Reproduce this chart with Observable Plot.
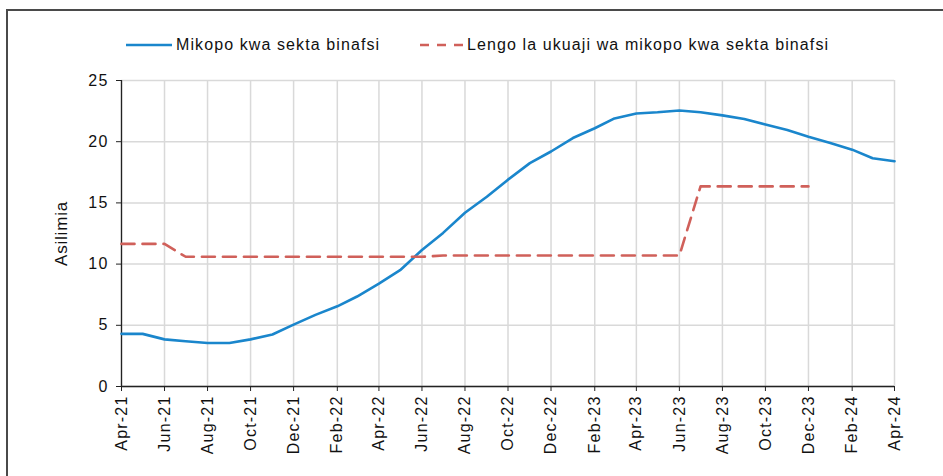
<!DOCTYPE html>
<html><head><meta charset="utf-8">
<script src="https://cdn.jsdelivr.net/npm/d3@7"></script>
<script src="https://cdn.jsdelivr.net/npm/@observablehq/plot@0.6"></script>
<style>
html,body{margin:0;padding:0;background:#fff;}
#wrap{position:relative;width:943px;height:476px;overflow:hidden;font-family:"Liberation Sans",Arial,Helvetica,sans-serif;color:#111;}
#frame{position:absolute;left:6px;top:9px;width:980px;height:520px;border-top:2px solid #4a4a4a;border-left:2px solid #4a4a4a;}
#chart{position:absolute;left:0;top:0;}
#chart svg text{letter-spacing:1.2px;}
#chart g[aria-label="y-axis label"] text{font-size:17px;letter-spacing:0.8px;}
.leg{position:absolute;font-size:16px;line-height:20px;letter-spacing:1.1px;white-space:nowrap;display:flex;align-items:center;}
.leg svg{display:block;margin-right:4px;}
</style></head><body>
<div id="wrap"><div id="frame"></div><div id="chart"></div><div id="legend"></div></div>
<script>
const months = ["2021-04","2021-05","2021-06","2021-07","2021-08","2021-09","2021-10","2021-11","2021-12",
  "2022-01","2022-02","2022-03","2022-04","2022-05","2022-06","2022-07","2022-08","2022-09","2022-10","2022-11","2022-12",
  "2023-01","2023-02","2023-03","2023-04","2023-05","2023-06","2023-07","2023-08","2023-09","2023-10","2023-11","2023-12",
  "2024-01","2024-02","2024-03","2024-04"];
const privateCredit = [4.3,4.3,3.85,3.7,3.55,3.55,3.85,4.25,5.05,
  5.85,6.55,7.35,8.4,9.5,11.15,12.55,14.2,15.5,16.9,18.25,19.2,
  20.3,21.1,21.9,22.3,22.4,22.55,22.4,22.15,21.85,21.4,20.95,20.4,
  19.9,19.35,18.65,18.4];
const creditTarget = [11.65,11.65,11.65,10.6,10.6,10.6,10.6,10.6,10.6,
  10.6,10.6,10.6,10.6,10.6,10.6,10.7,10.7,10.7,10.7,10.7,10.7,
  10.7,10.7,10.7,10.7,10.7,10.7,16.35,16.35,16.35,16.35,16.35,16.35];
const seriesNames = ["Mikopo kwa sekta binafsi","Lengo la ukuaji wa mikopo kwa sekta binafsi"];
const seriesColors = ["#1a86cc","#d0605a"];
const xTickLabels = ["Apr-21","Jun-21","Aug-21","Oct-21","Dec-21","Feb-22","Apr-22","Jun-22","Aug-22","Oct-22",
  "Dec-22","Feb-23","Apr-23","Jun-23","Aug-23","Oct-23","Dec-23","Feb-24","Apr-24"];
const yTicks = [0,5,10,15,20,25];
const yLabel = "Asilimia";

const parseMonth = d3.utcParse("%Y-%m");
const parseTick = d3.utcParse("%b-%y");
const credit = months.map((m,i)=>({date: parseMonth(m), value: privateCredit[i]}));
const target = creditTarget.map((v,i)=>({date: parseMonth(months[i]), value: v}));
const xTicks = xTickLabels.map(s=>parseTick(s));
const fmtTick = d => { const k = xTicks.findIndex(t=>+t===+d); return k>=0 ? xTickLabels[k] : ""; };

const plot = Plot.plot({
  width: 943, height: 476,
  marginLeft: 121, marginRight: 49, marginTop: 80, marginBottom: 90,
  style: {fontFamily: '"Liberation Sans",Arial,Helvetica,sans-serif', fontSize: "16px", color: "#111", background: "transparent", overflow: "visible"},
  x: {type: "utc", domain: [xTicks[0], xTicks[xTicks.length-1]]},
  y: {domain: [0, 25]},
  marks: [
    Plot.gridX({ticks: xTicks, stroke: "#d9d9d9", strokeOpacity: 1, strokeWidth: 1.5}),
    Plot.gridY({ticks: yTicks, stroke: "#d9d9d9", strokeOpacity: 1, strokeWidth: 1.5}),
    Plot.axisX({ticks: xTicks, tickFormat: fmtTick, tickRotate: -90, tickSize: 5, tickPadding: 4, label: null, stroke: "#222"}),
    Plot.axisY({ticks: yTicks, tickSize: 5, tickPadding: 8, label: yLabel, labelAnchor: "center", labelOffset: 67, labelArrow: "none", stroke: "#222"}),
    Plot.ruleY([0], {stroke: "#222", strokeWidth: 1.3}),
    Plot.ruleX([xTicks[0]], {stroke: "#222", strokeWidth: 1.3}),
    Plot.line(credit, {x: "date", y: "value", stroke: seriesColors[0], strokeWidth: 2.6}),
    Plot.line(target, {x: "date", y: "value", stroke: seriesColors[1], strokeWidth: 2.6, strokeDasharray: "13,8"})
  ]
});
document.getElementById("chart").appendChild(plot);

const legendPos = [{left: 126, w: 46, dash: null}, {left: 420, w: 43, dash: "9,8"}];
const leg = document.getElementById("legend");
seriesNames.forEach((name, i) => {
  const p = legendPos[i];
  const div = document.createElement("div");
  div.className = "leg";
  div.style.left = p.left + "px";
  div.style.top = "35px";
  div.innerHTML = `<svg width="${p.w}" height="6"><line x1="0" x2="${p.w}" y1="3" y2="3" stroke="${seriesColors[i]}" stroke-width="2.6" ${p.dash ? `stroke-dasharray="${p.dash}"` : ""}/></svg><span>${name}</span>`;
  leg.appendChild(div);
});
</script>
</body></html>
